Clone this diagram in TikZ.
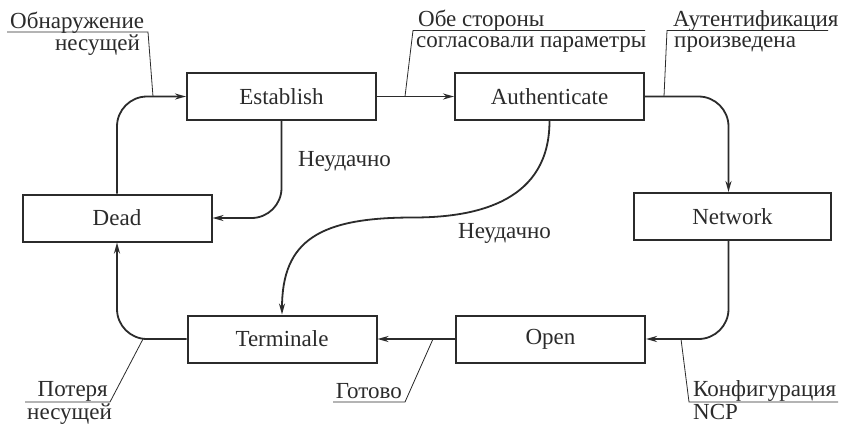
\documentclass[tikz,border=0pt]{standalone}
\usepackage{fontspec}
\setmainfont{Liberation Serif}
\usetikzlibrary{arrows.meta}
\definecolor{ink}{HTML}{2B2B2B}
\begin{document}
\begin{tikzpicture}[x=1pt,y=-1pt,
  state/.style={draw=ink, line width=2pt, minimum width=189pt, minimum height=47pt,
    inner sep=0pt, text=ink, font=\fontsize{23}{26}\selectfont},
  flow/.style={draw=ink, line width=1.8pt, -{Stealth[length=11pt,width=6pt]}},
  roundturn/.style={rounded corners=30pt},
  lbl/.style={text=ink, font=\fontsize{23}{26}\selectfont, inner sep=0pt},
  leader/.style={draw=ink, line width=0.8pt}]
\useasboundingbox[fill=white] (0,0) rectangle (846,424);

% states of the link
\node[state] (est)  at (281.5,96.5) {Establish};
\node[state] (auth) at (549.5,96.5) {Authenticate};
\node[state] (dead) at (117,218) {Dead};
\node[state, minimum width=197pt] (net) at (732.5,216.5) {Network};
\node[state] (term) at (282,339) {Terminale};
\node[state] (open) at (550.5,339) {Open};

% transitions
\draw[flow, roundturn] (dead.north) |- (est.west);
\draw[flow, roundturn] (est.south) |- (dead.east);
\draw[flow] (est.east) -- (auth.west);
\draw[flow, roundturn] (auth.east) -| ([xshift=-4pt]net.north);
\draw[flow] (auth.south) .. controls (549.5,200) and (480,217.5) .. (413,217.5)
  .. controls (320,217.5) and (282,240) .. (term.north);
\draw[flow, roundturn] ([xshift=-4pt]net.south) |- (open.east);
\draw[flow] (open.west) -- (term.east);
\draw[flow, roundturn] (term.west) -| (dead.south);

% failure labels
\node[lbl, anchor=base west] (fail1) at (298,166) {Неудачно};
\node[lbl, anchor=base west] (fail2) at (458,238) {Неудачно};

% event callouts: underline plus a leader to the transition
\node[lbl, anchor=base west] (ev1a) at (10,28) {Обнаружение};
\node[lbl, anchor=base east] (ev1b) at (140,50) {несущей};
\coordinate (u1) at (148,32);
\coordinate (p1) at (153,96.5);
\draw[leader] (7,32) -- (u1) -- (p1);

\node[lbl, anchor=base west] (ev2a) at (418,26) {Обе стороны};
\node[lbl, anchor=base west] (ev2b) at (416,47) {согласовали параметры};
\coordinate (u2) at (413,30.5);
\coordinate (p2) at (405,96.5);
\draw[leader] (645,30.5) -- (u2) -- (p2);

\node[lbl, anchor=base west] (ev3a) at (673,26) {Аутентификация};
\node[lbl, anchor=base west] (ev3b) at (674,47) {произведена};
\coordinate (u3) at (667,30.5);
\coordinate (p3) at (664,96.5);
\draw[leader] (828,30.5) -- (u3) -- (p3);

\node[lbl, anchor=base east] (ev4a) at (108,396) {Потеря};
\node[lbl, anchor=base west] (ev4b) at (27,419) {несущей};
\coordinate (u4) at (110,402);
\coordinate (p4) at (143,339);
\draw[leader] (25,402) -- (u4) -- (p4);

\node[lbl, anchor=base east] (ev5) at (402,398) {Готово};
\coordinate (u5) at (405,402);
\coordinate (p5) at (433,339);
\draw[leader] (333,402) -- (u5) -- (p5);

\node[lbl, anchor=base west] (ev6a) at (693,396) {Конфигурация};
\node[lbl, anchor=base west] (ev6b) at (693,419) {NCP};
\coordinate (u6) at (689,402);
\coordinate (p6) at (681,339);
\draw[leader] (838,402) -- (u6) -- (p6);
\end{tikzpicture}
\end{document}
